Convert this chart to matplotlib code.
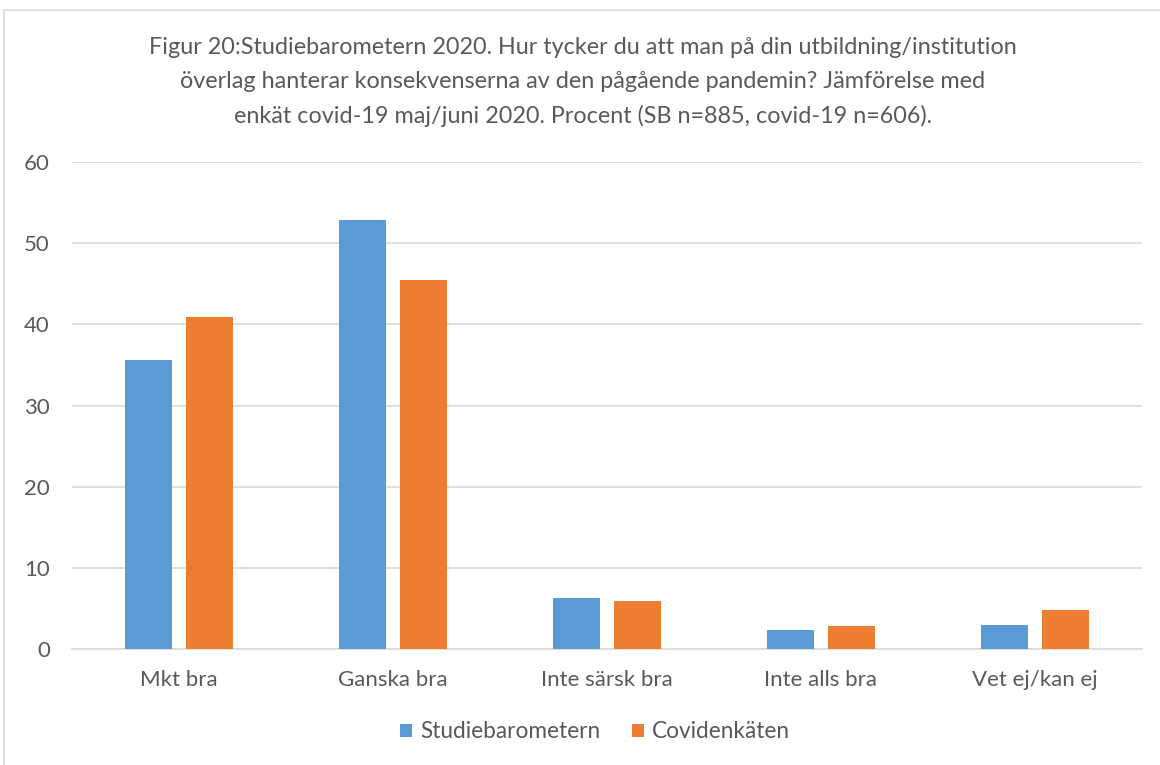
import numpy as np
import matplotlib.pyplot as plt
from matplotlib.patches import Rectangle

categories = ["Mkt bra", "Ganska bra", "Inte särsk bra", "Inte alls bra", "Vet ej/kan ej"]
studiebarometern = [35.6, 52.9, 6.3, 2.3, 2.9]
covidenkaten = [40.9, 45.5, 5.9, 2.8, 4.8]
series_names = ["Studiebarometern", "Covidenkäten"]
title = ("Figur 20:Studiebarometern 2020. Hur tycker du att man på din utbildning/institution\n"
         "överlag hanterar konsekvenserna av den pågående pandemin? Jämförelse med\n"
         "enkät covid-19 maj/juni 2020. Procent (SB n=885, covid-19 n=606).")

plt.rcParams['font.family'] = ['Lato', 'DejaVu Sans']
grey = '#595959'

fig = plt.figure(figsize=(11.6, 7.65), dpi=100)
ax = fig.add_axes([72 / 1160, 1 - 649 / 765, (1142 - 72) / 1160, (649 - 162) / 765])

x = np.arange(len(categories))
w = 0.224
ax.bar(x - 0.1425, studiebarometern, w, color='#5B9BD5', label=series_names[0], zorder=3)
ax.bar(x + 0.1425, covidenkaten, w, color='#ED7D31', label=series_names[1], zorder=3)

ax.set_xlim(-0.5, len(categories) - 0.5)
ax.set_ylim(0, 60)
ax.set_yticks(range(0, 61, 10))
ax.set_xticks(x)
ax.set_xticklabels(categories)
ax.yaxis.grid(True, color='#d9d9d9', linewidth=1.2, zorder=0)
for s in ['top', 'right', 'left']:
    ax.spines[s].set_visible(False)
ax.spines['bottom'].set_color('#d9d9d9')
ax.spines['bottom'].set_linewidth(1.2)
ax.tick_params(length=0, labelsize=16, colors=grey)
ax.tick_params(axis='y', pad=16)
ax.tick_params(axis='x', pad=15)

fig.text(583 / 1160, 1 - 82 / 765, title, ha='center', va='center', fontsize=16.8,
         color=grey, linespacing=1.75)

fig.legend(loc='center', bbox_to_anchor=(595 / 1160, 1 - 732 / 765), ncol=2, frameon=False,
           fontsize=16.3, labelcolor=grey, handlelength=0.55, handleheight=0.55,
           handletextpad=0.35, columnspacing=1.4)

fig.patches.append(Rectangle((4 / 1160, -0.05), 1.2, 1 - 10 / 765 + 0.05, transform=fig.transFigure,
                             fill=False, edgecolor='#d9d9d9', linewidth=1.2))

fig.savefig('out.png', dpi=100)
